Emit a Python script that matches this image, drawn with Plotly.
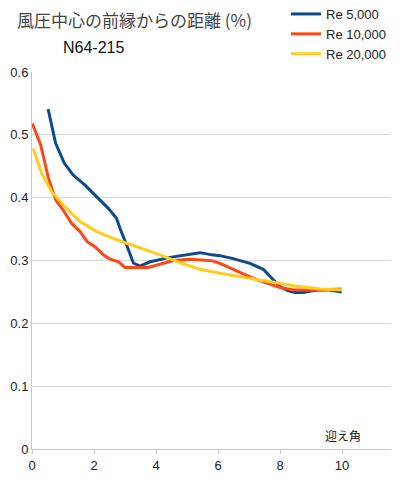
import plotly.graph_objects as go

# Re 5,000
x_re5k = [0.52, 0.76, 1.04, 1.33, 1.71, 2.09, 2.46, 2.73, 2.84, 3.05, 3.27, 3.48, 3.81, 4.45, 5.1, 5.42, 5.8, 6.06, 6.49, 7.03, 7.46, 7.73, 8.0, 8.25, 8.48, 8.74, 9.18, 9.6, 9.99]
y_re5k = [0.541, 0.487, 0.455, 0.436, 0.42, 0.402, 0.383, 0.367, 0.351, 0.325, 0.296, 0.291, 0.298, 0.305, 0.310, 0.3125, 0.309, 0.3077, 0.303, 0.2955, 0.286, 0.272, 0.258, 0.252, 0.249, 0.249, 0.253, 0.253, 0.250]

# Re 10,000
x_re10k = [0.01, 0.28, 0.53, 0.77, 1.01, 1.28, 1.55, 1.78, 2.03, 2.3, 2.52, 2.79, 3.0, 3.38, 3.75, 4.13, 4.56, 5.1, 5.8, 6.06, 6.49, 7.03, 7.46, 8.0, 8.43, 9.07, 9.99]
y_re10k = [0.518, 0.484, 0.431, 0.396, 0.380, 0.359, 0.346, 0.330, 0.322, 0.309, 0.302, 0.298, 0.289, 0.289, 0.289, 0.294, 0.300, 0.302, 0.2997, 0.2955, 0.286, 0.274, 0.266, 0.257, 0.253, 0.253, 0.2547]

# Re 20,000
x_re20k = [0.04, 0.31, 0.63, 1.01, 1.55, 2.09, 2.73, 3.48, 4.13, 4.77, 5.42, 6.06, 6.71, 7.25, 7.89, 8.54, 9.29, 10.0]
y_re20k = [0.478, 0.439, 0.41, 0.388, 0.362, 0.346, 0.333, 0.320, 0.309, 0.2966, 0.286, 0.2797, 0.274, 0.270, 0.2647, 0.259, 0.2547, 0.253]

x_ticks = [0, 2, 4, 6, 8, 10]
y_ticks = [0, 0.1, 0.2, 0.3, 0.4, 0.5, 0.6]

series = [
    ("Re 5,000", x_re5k, y_re5k, "#0C4A8A"),
    ("Re 10,000", x_re10k, y_re10k, "#FF4715"),
    ("Re 20,000", x_re20k, y_re20k, "#FFCC1F"),
]

fig = go.Figure()
for name, xs, ys, col in series:
    fig.add_trace(go.Scatter(x=xs, y=ys, mode="lines", name=name,
                             line=dict(color=col, width=3)))

# page body has an 8px margin; figure pixel = screen pixel - 8
L, T, PW, PH = 24, 64, 359, 377

fig.update_layout(
    width=392, height=492,
    margin=dict(l=L, r=392 - L - PW, t=T, b=492 - T - PH, autoexpand=False),
    paper_bgcolor="white", plot_bgcolor="white",
    font=dict(family="Liberation Sans, Arial, sans-serif", size=12, color="#222"),
    showlegend=True,
    legend=dict(x=(278 - L) / PW, y=1 + (T + 9) / PH, xanchor="left", yanchor="top",
                font=dict(size=13, color="#222"), bgcolor="rgba(0,0,0,0)",
                tracegroupgap=0, itemwidth=30),
    xaxis=dict(range=[0, 11.58], tickvals=x_ticks, showgrid=False,
               showline=True, linecolor="#c8c8c8", linewidth=1,
               ticks="outside", ticklen=4, tickcolor="#c8c8c8",
               zeroline=False, tickfont=dict(size=13)),
    yaxis=dict(range=[0, 0.6], tickvals=y_ticks, showgrid=True,
               gridcolor="#d9d9d9", showline=True, linecolor="#c8c8c8",
               linewidth=1, zeroline=False, ticks="", tickfont=dict(size=13)),
    annotations=[
        dict(text="風圧中心の前縁からの距離 (%)", xref="paper", yref="paper",
             x=(126 - L) / PW, y=1 + (T - 11) / PH, xanchor="center", yanchor="middle",
             showarrow=False, font=dict(family="Noto Sans CJK JP", size=17, color="#444")),
        dict(text="N64-215", xref="paper", yref="paper",
             x=(85 - L) / PW, y=1 + (T - 39) / PH, xanchor="center", yanchor="middle",
             showarrow=False, font=dict(family="Liberation Sans, Arial", size=16, color="#111")),
        dict(text="迎え角", xref="x", yref="y", x=10.03, y=0.022,
             xanchor="center", yanchor="middle", showarrow=False,
             font=dict(family="Noto Sans CJK JP", size=12, color="#111")),
    ],
)

fig.write_html("out.html")
